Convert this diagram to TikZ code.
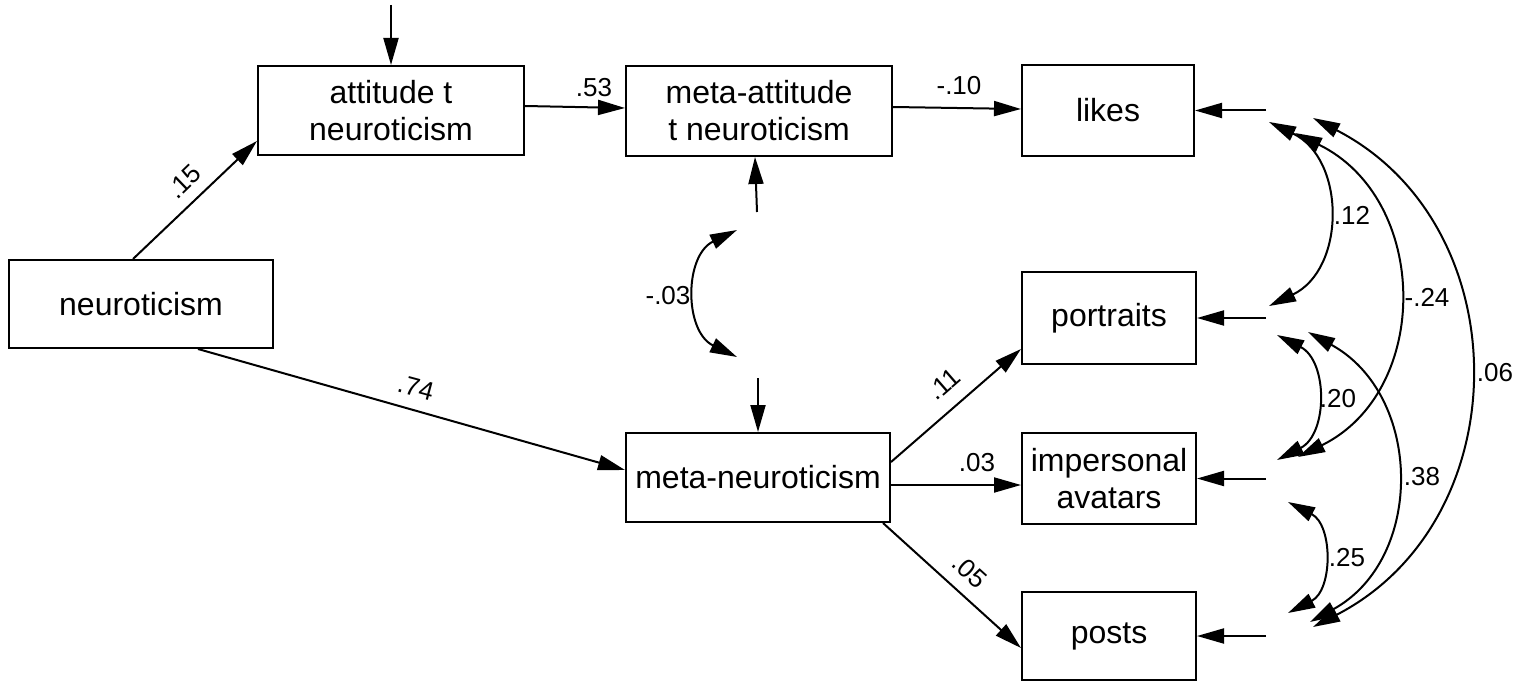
\documentclass[tikz,border=0pt]{standalone}
\usepackage{fontspec}
\setmainfont{Liberation Sans}
\usetikzlibrary{arrows.meta}
\begin{document}
\begin{tikzpicture}[x=1pt,y=-1pt,
  box/.style={draw, line width=2pt, inner sep=0pt, align=center,
    font=\fontsize{32}{37}\selectfont},
  tip/.tip={Triangle[length=27pt,width=15pt]},
  reg/.style={line width=2pt, -tip},
  cov/.style={line width=2pt, tip-tip},
  lab/.style={font=\fontsize{26}{30}\selectfont, inner sep=0pt}]
\useasboundingbox (0,0) rectangle (1520,682);

% observed variables
\node[box, minimum width=264pt, minimum height=88pt] (neu)   at (141,304)   {neuroticism};
\node[box, minimum width=266pt, minimum height=89pt] (att)   at (391,110.5) {attitude t\\neuroticism};
\node[box, minimum width=266pt, minimum height=90pt] (matt)  at (759,111)   {meta-attitude\\t neuroticism};
\node[box, minimum width=264pt, minimum height=89pt] (mneu)  at (758,477.5) {meta-neuroticism};
\node[box, minimum width=172pt, minimum height=91pt] (likes) at (1108,110.5){likes};
\node[box, minimum width=174pt, minimum height=92pt] (port)  at (1109,318)  {portraits};
\node[box, minimum width=174pt, minimum height=91pt] (imp)   at (1109,478.5){impersonal\\avatars};
\node[box, minimum width=174pt, minimum height=88pt] (posts) at (1109,636)  {posts};

% free ends of the residual arrows
\coordinate (eatt)   at (391,5);
\coordinate (ematt)  at (757,212);
\coordinate (emneu)  at (758,378);
\coordinate (elikes) at (1266,110.5);
\coordinate (eport)  at (1266,318);
\coordinate (eimp)   at (1266,478.5);
\coordinate (eposts) at (1266,636);

% structural paths
\draw[reg] ([xshift=-8pt]neu.north) -- ([yshift=15pt]att.south west);
\node[lab, rotate=44] (l15) at (184,182) {.15};
\draw[reg] ([yshift=4.5pt]att.east) -- ([yshift=3pt]matt.west);
\node[lab] (l53) at (594,88) {.53};
\draw[reg] ([yshift=4pt]matt.east) -- ([yshift=1.5pt]likes.west);
\node[lab] (l10) at (959,86) {-.10};
\draw[reg] ([xshift=57pt]neu.south) -- ([yshift=7.5pt]mneu.west);
\node[lab, rotate=-15] (l74) at (416,388) {.74};
\draw[reg] ([yshift=15.5pt]mneu.east) -- ([yshift=16pt]port.south west);
\node[lab, rotate=41] (l11) at (944,384) {.11};
\draw[reg] ([yshift=-7.5pt]mneu.east) -- ([yshift=-6.5pt]imp.west);
\node[lab] (l03) at (977,463) {.03};
\draw[reg] ([xshift=-8pt]mneu.south east) -- ([yshift=-12pt]posts.west);
\node[lab, rotate=-42] (l05) at (970,571) {.05};

% residuals
\draw[reg] (eatt) -- (att.north);
\draw[reg] (ematt) -- ([xshift=-4pt]matt.south);
\draw[reg] (emneu) -- (mneu.north);
\draw[reg] (elikes) -- (likes.east);
\draw[reg] (eport) -- (port.east);
\draw[reg] (eimp) -- (imp.east);
\draw[reg] (eposts) -- (posts.east);

% residual covariance of the mediators
\coordinate (ca) at (737,230);
\coordinate (cb) at (737,357);
\draw[cov] (ca) .. controls (684,255.5) and (684,331.5) .. (cb);
\node[lab] (l03b) at (668,296) {-.03};

% residual covariances of the outcomes
\coordinate (k12a) at (1269,122);  \coordinate (k12b) at (1269,306);
\coordinate (k24a) at (1295,133);  \coordinate (k24b) at (1298,457);
\coordinate (k06a) at (1313,118);  \coordinate (k06b) at (1313,627);
\coordinate (k20a) at (1277,335);  \coordinate (k20b) at (1277,460);
\coordinate (k38a) at (1308,332);  \coordinate (k38b) at (1310,622);
\coordinate (k25a) at (1288,502);  \coordinate (k25b) at (1288,613);

\draw[cov] (k12a) .. controls (1346,159) and (1346,269) .. (k12b);
\node[lab] (l12) at (1352,215) {.12};
\draw[cov] (k24a) .. controls (1430,199) and (1432,391) .. (k24b);
\node[lab] (l24) at (1427,297) {-.24};
\draw[cov] (k06a) .. controls (1520,225) and (1520,520) .. (k06b);
\node[lab] (l06) at (1495,373) {.06};
\draw[cov] (k20a) .. controls (1328,361) and (1328,434) .. (k20b);
\node[lab] (l20) at (1338,399) {.20};
\draw[cov] (k38a) .. controls (1423,395) and (1425,559) .. (k38b);
\node[lab] (l38) at (1422,477) {.38};
\draw[cov] (k25a) .. controls (1333,525) and (1333,590) .. (k25b);
\node[lab] (l25) at (1347,558) {.25};
\end{tikzpicture}
\end{document}
